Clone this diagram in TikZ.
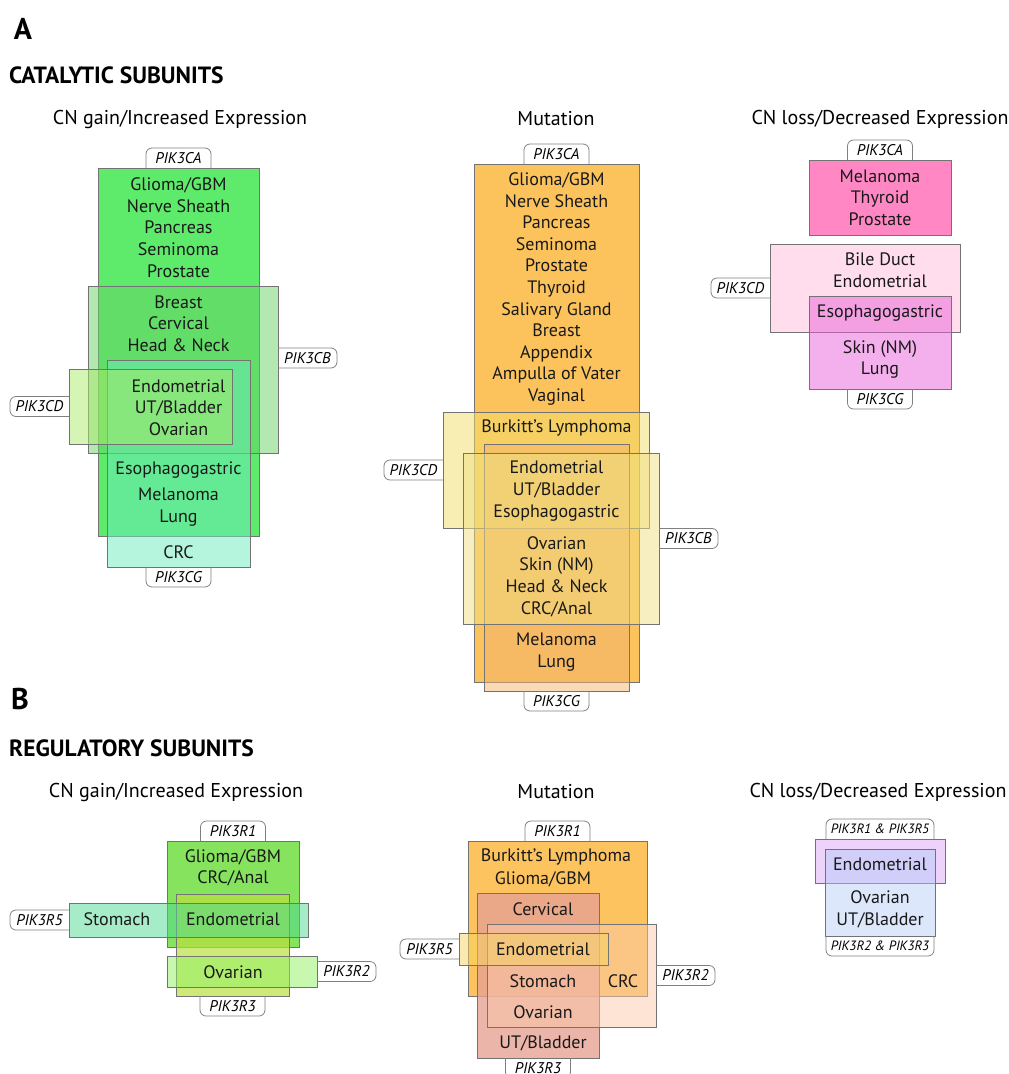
\documentclass[tikz,border=0pt]{standalone}
\usepackage{fontspec}
\setmainfont{PT Sans}
\usetikzlibrary{positioning}

\definecolor{caGreen}{HTML}{5EEA6B}
\definecolor{cbGreen}{HTML}{67D167}
\definecolor{cgMint}{HTML}{6BEBBD}
\definecolor{cdLime}{HTML}{A9EB69}
\definecolor{caOrange}{HTML}{FCC35C}
\definecolor{cdYellow}{HTML}{F1DD69}
\definecolor{cbYellow}{HTML}{F1DF81}
\definecolor{cgPeach}{HTML}{F3B36D}
\definecolor{caPink}{HTML}{FF88C4}
\definecolor{cdPink}{HTML}{FFBBD9}
\definecolor{cgOrchid}{HTML}{E961D9}
\definecolor{raGreen}{HTML}{86E35E}
\definecolor{rcLime}{HTML}{B8E040}
\definecolor{reTeal}{HTML}{4DD991}
\definecolor{rbGreen}{HTML}{91F161}
\definecolor{raOrange}{HTML}{FDC35F}
\definecolor{rcSalmon}{HTML}{E6A294}
\definecolor{rbPeach}{HTML}{FBC9A9}
\definecolor{reYellow}{HTML}{F7D561}
\definecolor{rLilac}{HTML}{D191F1}
\definecolor{rBlue}{HTML}{B1C9F9}

\tikzstyle{box} = [draw=black!55, line width=0.8pt, inner sep=0pt, outer sep=0pt]
\tikzstyle{see} = [fill opacity=0.5]
\tikzstyle{lbl} = [font=\fontsize{18}{21.6}\selectfont, align=center, inner sep=0pt, text=black!90]
\tikzstyle{ttl} = [font=\fontsize{20}{24}\selectfont, inner sep=0pt]
\tikzstyle{sect} = [font=\fontsize{23.5}{26}\selectfont\bfseries, inner sep=0pt, anchor=west]
\tikzstyle{letter} = [font=\fontsize{30}{34}\selectfont\bfseries, inner sep=0pt]
\tikzstyle{tabtxt} = [font=\fontsize{15.5}{17}\selectfont\itshape, inner sep=0pt, outer sep=0pt, minimum height=20pt]
\tikzstyle{tabwide} = [minimum width=108pt, font=\fontsize{13.5}{15}\selectfont\itshape]
\tikzstyle{tabline} = [draw=black!50, line width=0.8pt, rounded corners=6pt]

% tabs: [options]{name}{box}{text}
\newcommand{\tabtop}[4][]{%
  \node[tabtxt, minimum width=65pt, above=0pt of #3, #1] (#2) {#4};
  \draw[tabline] (#2.south west) -- (#2.north west) -- (#2.north east) -- (#2.south east);}
\newcommand{\tabbot}[4][]{%
  \node[tabtxt, minimum width=65pt, below=0pt of #3, #1] (#2) {#4};
  \draw[tabline] (#2.north west) -- (#2.south west) -- (#2.south east) -- (#2.north east);}
\newcommand{\tableft}[4][]{%
  \node[tabtxt, minimum width=59pt, left=0pt of #3, #1] (#2) {#4};
  \draw[tabline] (#2.north east) -- (#2.north west) -- (#2.south west) -- (#2.south east);}
\newcommand{\tabright}[4][]{%
  \node[tabtxt, minimum width=59pt, right=0pt of #3, #1] (#2) {#4};
  \draw[tabline] (#2.north west) -- (#2.north east) -- (#2.south east) -- (#2.south west);}

\begin{document}
\begin{tikzpicture}[x=1pt, y=-1pt]
\useasboundingbox (0,0) rectangle (1009,1074);

% headings
\node[letter] (A) at (23,28.5) {A};
\node[sect] (catal) at (9,75.5) {CATALYTIC SUBUNITS};
\node[ttl] (gainA) at (180,119) {CN gain/Increased Expression};
\node[ttl] (mutA) at (556,119) {Mutation};
\node[ttl] (lossA) at (880,119) {CN loss/Decreased Expression};
\node[letter] (B) at (20,699) {B};
\node[sect] (regul) at (9,748) {REGULATORY SUBUNITS};
\node[ttl] (gainB) at (176,792) {CN gain/Increased Expression};
\node[ttl] (mutB) at (556,792) {Mutation};
\node[ttl] (lossB) at (878,792) {CN loss/Decreased Expression};

% A: CN gain
\node[box, fill=caGreen, minimum width=161pt, minimum height=368pt] (gCA) at (178.5,352) {};
\node[box, see, fill=cbGreen, minimum width=190pt, minimum height=167pt] (gCB) at (183,369.5) {};
\node[box, see, fill=cgMint, minimum width=143pt, minimum height=207pt] (gCG) at (178.5,463.5) {};
\node[box, see, fill=cdLime, minimum width=163pt, minimum height=75pt] (gCD) at (150.5,406.5) {};
\tabtop{tgCA}{gCA}{PIK3CA}
\tabright[yshift=11.5pt]{tgCB}{gCB}{PIK3CB}
\tabbot{tgCG}{gCG}{PIK3CG}
\tableft{tgCD}{gCD}{PIK3CD}
\node[lbl] (g1) at (178.5,227.5) {Glioma/GBM\\Nerve Sheath\\Pancreas\\Seminoma\\Prostate};
\node[lbl] (g2) at (178.5,323.5) {Breast\\Cervical\\Head \& Neck};
\node[lbl] (g3) at (178.5,407.5) {Endometrial\\UT/Bladder\\Ovarian};
\node[lbl] (g4) at (178.5,470) {Esophagogastric};
\node[lbl] (g5) at (178.5,507) {Melanoma\\Lung};
\node[lbl] (g6) at (178.5,552) {CRC};

% A: Mutation
\node[box, fill=caOrange, minimum width=165pt, minimum height=518pt] (mCA) at (556.5,423) {};
\node[box, see, fill=cdYellow, minimum width=206pt, minimum height=116pt] (mCD) at (546,470) {};
\node[box, see, fill=cgPeach, minimum width=145pt, minimum height=247pt] (mCG) at (556.5,567.5) {};
\node[box, see, fill=cbYellow, minimum width=196pt, minimum height=171pt] (mCB) at (561,538.5) {};
\tabtop{tmCA}{mCA}{PIK3CA}
\tableft{tmCD}{mCD}{PIK3CD}
\tabbot{tmCG}{mCG}{PIK3CG}
\tabright{tmCB}{mCB}{PIK3CB}
\node[lbl] (m1) at (556.5,289) {Glioma/GBM\\Nerve Sheath\\Pancreas\\Seminoma\\Prostate\\Thyroid\\Salivary Gland\\Breast\\Appendix\\Ampulla of Vater\\Vaginal};
\node[lbl] (m2) at (556.5,428) {Burkitt’s Lymphoma};
\node[lbl] (m3) at (556.5,491) {Endometrial\\UT/Bladder\\Esophagogastric};
\node[lbl] (m4) at (556.5,576.5) {Ovarian\\Skin (NM)\\Head \& Neck\\CRC/Anal};
\node[lbl] (m5) at (556.5,652) {Melanoma\\Lung};

% A: CN loss
\node[box, fill=caPink, minimum width=142pt, minimum height=75pt] (lCA) at (880,197.5) {};
\node[box, see, fill=cdPink, minimum width=190pt, minimum height=88pt] (lCD) at (865,288) {};
\node[box, see, fill=cgOrchid, minimum width=142pt, minimum height=93pt] (lCG) at (880,342.5) {};
\tabtop{tlCA}{lCA}{PIK3CA}
\tableft{tlCD}{lCD}{PIK3CD}
\tabbot{tlCG}{lCG}{PIK3CG}
\node[lbl] (l1) at (880,197.5) {Melanoma\\Thyroid\\Prostate};
\node[lbl] (l2) at (880,270) {Bile Duct\\Endometrial};
\node[lbl] (l3) at (880,313) {Esophagogastric};
\node[lbl] (l4) at (880,359.5) {Skin (NM)\\Lung};

% B: CN gain
\node[box, fill=raGreen, minimum width=132pt, minimum height=106pt] (gRA) at (233,894) {};
\node[box, fill=rcLime, fill opacity=0.7, minimum width=113pt, minimum height=102pt] (gRC) at (232.5,945) {};
\node[box, see, fill=reTeal, minimum width=239pt, minimum height=34pt] (gRE) at (188.5,920) {};
\node[box, see, fill=rbGreen, minimum width=150pt, minimum height=31pt] (gRB) at (242,971.5) {};
\tabtop{tgRA}{gRA}{PIK3R1}
\tabbot{tgRC}{gRC}{PIK3R3}
\tableft{tgRE}{gRE}{PIK3R5}
\tabright{tgRB}{gRB}{PIK3R2}
\node[lbl] (h1) at (233,868) {Glioma/GBM\\CRC/Anal};
\node[lbl] (h2) at (117,919) {Stomach};
\node[lbl] (h3) at (233,919) {Endometrial};
\node[lbl] (h4) at (233,972) {Ovarian};

% B: Mutation
\node[box, fill=raOrange, minimum width=179pt, minimum height=155pt] (mRA) at (557.5,918.5) {};
\node[box, fill=rcSalmon, fill opacity=0.8, minimum width=122pt, minimum height=165pt] (mRC) at (538,975.5) {};
\node[box, see, fill=rbPeach, minimum width=169pt, minimum height=103pt] (mRB) at (571.5,975.5) {};
\node[box, see, fill=reYellow, minimum width=149pt, minimum height=32pt] (mRE) at (533.5,949) {};
\tabtop{tmRA}{mRA}{PIK3R1}
\tabbot{tmRC}{mRC}{PIK3R3}
\tabright{tmRB}{mRB}{PIK3R2}
\tableft{tmRE}{mRE}{PIK3R5}
\node[lbl] (n1) at (556,857) {Burkitt’s Lymphoma};
\node[lbl] (n2) at (543,879) {Glioma/GBM};
\node[lbl] (n3) at (543,909) {Cervical};
\node[lbl] (n4) at (543,949) {Endometrial};
\node[lbl] (n5) at (543,981) {Stomach};
\node[lbl] (n6) at (623,981) {CRC};
\node[lbl] (n7) at (543,1012) {Ovarian};
\node[lbl] (n8) at (543,1043) {UT/Bladder};

% B: CN loss
\node[box, fill=rLilac, fill opacity=0.4, minimum width=130pt, minimum height=44pt] (lRAE) at (880,861) {};
\node[box, fill=rBlue, fill opacity=0.45, minimum width=110pt, minimum height=87pt] (lRBC) at (880,892.5) {};
\tabtop[tabwide]{tlRAE}{lRAE}{PIK3R1 \& PIK3R5}
\tabbot[tabwide]{tlRBC}{lRBC}{PIK3R2 \& PIK3R3}
\node[lbl] (k1) at (880,864) {Endometrial};
\node[lbl] (k2) at (880,909.5) {Ovarian\\UT/Bladder};
\end{tikzpicture}
\end{document}
